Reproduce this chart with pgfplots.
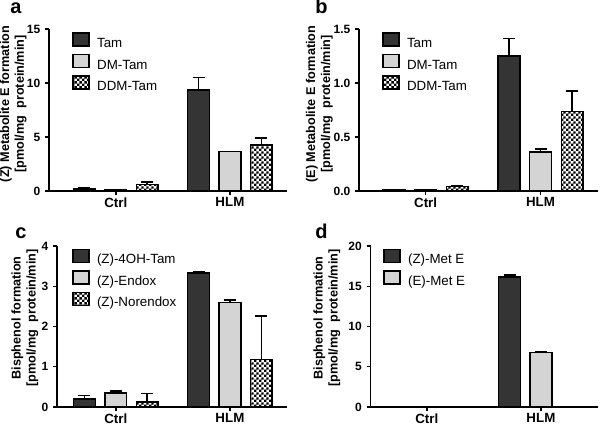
\documentclass[border=0pt]{standalone}
\usepackage{pgfplots}
\pgfplotsset{compat=1.18}
\usepackage{fontspec}
\setmainfont{Liberation Sans}
\usetikzlibrary{patterns}
\pgfdeclarepatternformonly{finecheck}{\pgfpointorigin}{\pgfqpoint{3.6pt}{3.6pt}}{\pgfqpoint{3.6pt}{3.6pt}}{%
  \pgfpathrectangle{\pgfpointorigin}{\pgfqpoint{1.8pt}{1.8pt}}%
  \pgfpathrectangle{\pgfqpoint{1.8pt}{1.8pt}}{\pgfqpoint{1.8pt}{1.8pt}}%
  \pgfusepath{fill}%
}
\definecolor{darkbar}{RGB}{52,52,52}
\definecolor{lightbar}{RGB}{212,212,212}
\pgfplotsset{
  panel/.style={
    scale only axis,
    anchor=south west,
    axis lines=left,
    axis line style={-, line width=1.1pt},
    every tick/.style={black, line width=1.1pt},
    tick align=outside,
    major tick length=3pt,
    xtick={0,1}, xticklabels={Ctrl,HLM},
    xmax=1.5,
    ymin=0,
    enlargelimits=false,
    /pgf/number format/assume math mode=true,
    xticklabel style={font=\bfseries\fontsize{10}{12}\selectfont, yshift=1.5pt},
    yticklabel style={font=\bfseries\fontsize{9}{11}\selectfont},
    every axis y label/.style={rotate=90, anchor=south, align=center, font=\bfseries\fontsize{9.5}{11.2}\selectfont},
    legend cell align=left,
    legend style={draw=none, fill=none, inner sep=0pt, anchor=north west,
      font=\fontsize{10}{12}\selectfont, row sep=1.75pt,
      nodes={inner sep=0.5pt, text height=7.5pt, text depth=2.5pt},
      /tikz/every odd column/.append style={column sep=5pt}},
    clip=false,
  },
  barbase/.style={ybar, bar width=0.19, draw=black, line width=1.1pt,
    legend image code/.code={\draw[##1, draw=black, line width=1.1pt] (0pt,-1.4pt) rectangle (12pt,8.35pt);},
  },
  tam/.style={barbase, fill=darkbar, bar shift=-0.275},
  dm/.style={barbase, fill=lightbar, bar shift=0},
  ddm/.style={barbase, pattern=finecheck, bar shift=0.275},
  err/.style={forget plot, draw=none, mark=none,
    error bars/y dir=plus, error bars/y explicit,
    error bars/error bar style={line width=1.1pt, draw=black, solid},
    error bars/error mark options={draw=black, line width=1.1pt, mark size=4.5pt, solid, rotate=90}},
}
\begin{document}
\begin{tikzpicture}
\useasboundingbox (0pt,0pt) rectangle (450pt,319.5pt);
\node[anchor=base west, font=\bfseries\fontsize{15}{17}\selectfont, inner sep=0pt] at (7.5pt,309pt) {a};
\node[anchor=base west, font=\bfseries\fontsize{15}{17}\selectfont, inner sep=0pt] at (236.25pt,309pt) {b};
\node[anchor=base west, font=\bfseries\fontsize{15}{17}\selectfont, inner sep=0pt] at (11.25pt,141pt) {c};
\node[anchor=base west, font=\bfseries\fontsize{15}{17}\selectfont, inner sep=0pt] at (236.25pt,141pt) {d};

% panel a
\begin{axis}[panel, at={(36.75pt,176.25pt)}, width=178.5pt, height=121.5pt,
  xmin=-0.585, ymax=15, ytick={0,5,10,15},
  ylabel={(Z) Metabolite E formation\\{}[pmol/mg\ \ protein/min]},
  ylabel style={at={(axis description cs:-0.074,0.537)}},
  legend style={at={(axis description cs:0.097,0.981)}}]
\addplot[tam] coordinates {(0,0.2) (1,9.35)};
\addplot[dm] coordinates {(0,0.1) (1,3.65)};
\addplot[ddm] coordinates {(0,0.6) (1,4.25)};
\addplot[err] coordinates {(-0.275,0.2) +- (0,0.08) (0.725,9.35) +- (0,1.15)};
\addplot[err] coordinates {(0,0.1) +- (0,0.03)};
\addplot[err] coordinates {(0.275,0.6) +- (0,0.23) (1.275,4.25) +- (0,0.65)};
\legend{Tam,DM-Tam,DDM-Tam}
\end{axis}

% panel b
\begin{axis}[panel, at={(269.25pt,176.25pt)}, width=179.25pt, height=121.5pt,
  xmin=-0.58, ymax=1.5, ytick={0,0.5,1,1.5},
  yticklabel style={/pgf/number format/.cd, fixed, fixed zerofill, precision=1},
  ylabel={(E) Metabolite E formation\\{}[pmol/mg\ \ protein/min]},
  ylabel style={at={(axis description cs:-0.09,0.537)}},
  legend style={at={(axis description cs:0.096,0.981)}}]
\addplot[tam] coordinates {(0,0.008) (1,1.25)};
\addplot[dm] coordinates {(0,0.008) (1,0.36)};
\addplot[ddm] coordinates {(0,0.04) (1,0.735)};
\addplot[err] coordinates {(0.725,1.25) +- (0,0.16)};
\addplot[err] coordinates {(1,0.36) +- (0,0.03)};
\addplot[err] coordinates {(0.275,0.04) +- (0,0.01) (1.275,0.735) +- (0,0.19)};
\legend{Tam,DM-Tam,DDM-Tam}
\end{axis}

% panel c
\begin{axis}[panel, at={(42.75pt,14.25pt)}, width=172.5pt, height=120.75pt,
  xmin=-0.515, ymax=4, ytick={0,1,2,3,4},
  ylabel={Bisphenol formation\\{}[pmol/mg\ \ protein/min]},
  ylabel style={at={(axis description cs:-0.061,0.553)}},
  legend style={at={(axis description cs:0.065,0.985)}}]
\addplot[tam] coordinates {(0,0.2) (1,3.33)};
\addplot[dm] coordinates {(0,0.35) (1,2.59)};
\addplot[ddm] coordinates {(0,0.12) (1,1.18)};
\addplot[err] coordinates {(-0.275,0.2) +- (0,0.08) (0.725,3.33) +- (0,0.04)};
\addplot[err] coordinates {(0,0.35) +- (0,0.05) (1,2.59) +- (0,0.07)};
\addplot[err] coordinates {(0.275,0.12) +- (0,0.21) (1.275,1.18) +- (0,1.08)};
\legend{(Z)-4OH-Tam,(Z)-Endox,(Z)-Norendox}
\end{axis}

% panel d
\begin{axis}[panel, at={(277.9pt,14.25pt)}, width=170.6pt, height=120.75pt,
  xmin=-0.493, ymax=20, ytick={0,5,10,15,20},
  ylabel={Bisphenol formation\\{}[pmol/mg\ \ protein/min]},
  ylabel style={at={(axis description cs:-0.112,0.553)}},
  legend style={at={(axis description cs:0.055,0.985)}}]
\addplot[tam] coordinates {(0,0) (1,16.15)};
\addplot[dm] coordinates {(0,0.03) (1,6.75)};
\addplot[err] coordinates {(0.725,16.15) +- (0,0.25)};
\addplot[err] coordinates {(1,6.75) +- (0,0.15)};
\legend{(Z)-Met E,(E)-Met E}
\end{axis}
\end{tikzpicture}
\end{document}
